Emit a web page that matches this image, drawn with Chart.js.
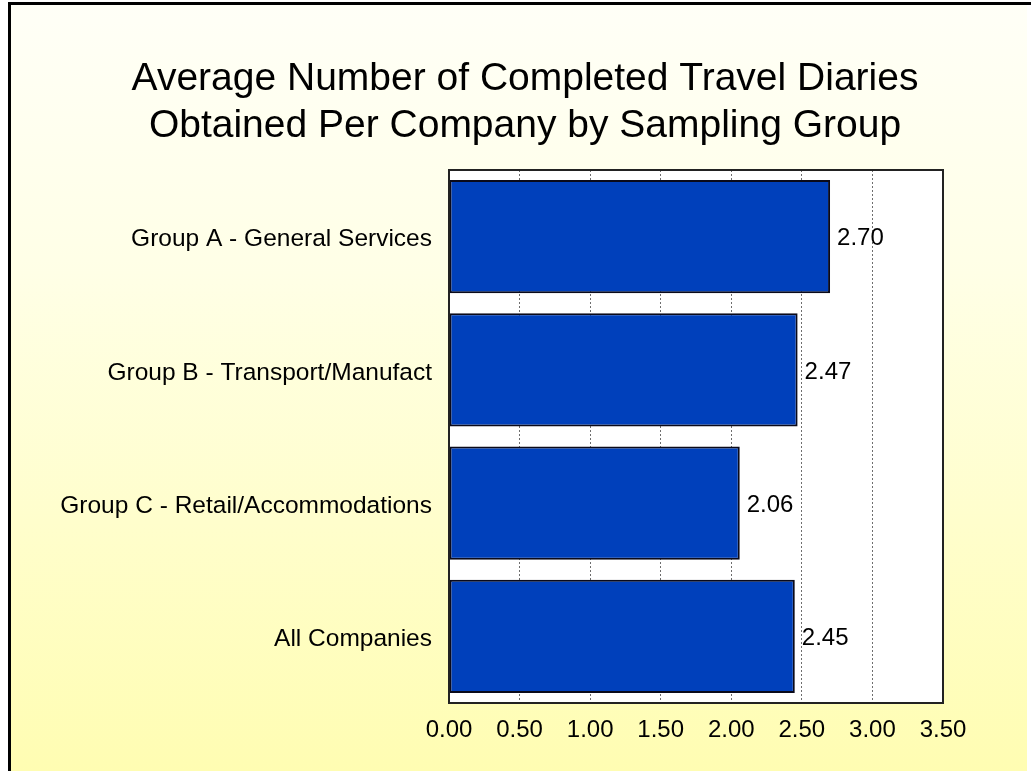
<!DOCTYPE html>
<html>
<head>
<meta charset="utf-8">
<title>Travel Diaries per Company</title>
<script src="https://cdn.jsdelivr.net/npm/chart.js@4.4.1/dist/chart.umd.min.js"></script>
<style>
  html, body { margin: 0; padding: 0; background: #fff; }
  #wrap { width: 1031px; height: 771px; position: relative; }
</style>
</head>
<body>
<div id="wrap"><canvas id="diaryChart" width="1031" height="771"></canvas></div>
<script>
const groups = [
  'Group A - General Services',
  'Group B - Transport/Manufact',
  'Group C - Retail/Accommodations',
  'All Companies'
];
const avgDiaries = [2.70, 2.47, 2.06, 2.45];
const xTicks = [0, 0.5, 1, 1.5, 2, 2.5, 3, 3.5];
const titleLines = ['Average Number of Completed Travel Diaries', 'Obtained Per Company by Sampling Group'];

const FONT = '"Liberation Sans", Arial, sans-serif';

// page background: yellow wash with the black frame on top/left
const slideBackground = {
  id: 'slideBackground',
  beforeDraw(chart) {
    const ctx = chart.ctx;
    ctx.save();
    ctx.fillStyle = '#ffffff';
    ctx.fillRect(0, 0, chart.width, chart.height);
    const g = ctx.createLinearGradient(0, 5, 0, chart.height);
    g.addColorStop(0, '#fffff7');
    g.addColorStop(0.35, '#ffffe6');
    g.addColorStop(1, '#fffdb2');
    ctx.fillStyle = g;
    ctx.fillRect(11, 5, 1016, chart.height - 5);
    ctx.fillStyle = '#000';
    ctx.fillRect(8, 2, chart.width - 8, 3);
    ctx.fillRect(8, 2, 3, chart.height - 2);

    // white plot area
    const a = chart.chartArea;
    ctx.fillStyle = '#ffffff';
    ctx.fillRect(a.left, a.top, a.right - a.left, a.bottom - a.top);
    ctx.restore();
  },
  afterDatasetsDraw(chart) {
    const a = chart.chartArea;
    const ctx = chart.ctx;
    ctx.save();
    ctx.strokeStyle = '#222';
    ctx.lineWidth = 2;
    ctx.strokeRect(a.left, a.top, a.right - a.left, a.bottom - a.top);
    ctx.restore();
  }
};

// two-line heading, centred a bit right of the canvas middle
const heading = {
  id: 'heading',
  afterDraw(chart) {
    const ctx = chart.ctx;
    ctx.save();
    ctx.font = '39px ' + FONT;
    ctx.fillStyle = '#000';
    ctx.textAlign = 'center';
    ctx.textBaseline = 'middle';
    titleLines.forEach((line, i) => ctx.fillText(line, 525, 79 + i * 47));
    ctx.restore();
  }
};

// value printed just past the end of each bar
const barValues = {
  id: 'barValues',
  afterDatasetsDraw(chart) {
    const ctx = chart.ctx;
    const meta = chart.getDatasetMeta(0);
    ctx.save();
    ctx.font = '24px ' + FONT;
    ctx.fillStyle = '#000';
    ctx.textAlign = 'left';
    ctx.textBaseline = 'middle';
    meta.data.forEach((bar, i) => {
      ctx.fillText(avgDiaries[i].toFixed(2), bar.x + 7, bar.y + 2);
    });
    ctx.restore();
  }
};

new Chart(document.getElementById('diaryChart'), {
  type: 'bar',
  data: {
    labels: groups,
    datasets: [{
      data: avgDiaries,
      backgroundColor: '#0040bb',
      borderColor: '#0a0a1a',
      borderWidth: 2,
      borderSkipped: false,
      barPercentage: 0.85,
      categoryPercentage: 1.0
    }]
  },
  options: {
    indexAxis: 'y',
    responsive: false,
    animation: false,
    devicePixelRatio: 1,
    layout: { padding: { left: 20, right: 88, top: 170, bottom: 0 } },
    plugins: {
      legend: { display: false },
      tooltip: { enabled: false },
      title: { display: false }
    },
    scales: {
      x: {
        min: 0,
        max: 3.5,
        afterBuildTicks(scale) {
          scale.ticks = xTicks.map(v => ({ value: v }));
        },
        afterFit(scale) { scale.height = 68; },
        border: { display: false, dash: [2, 2] },
        grid: {
          color: '#6e6e6e',
          lineWidth: 1,
          drawTicks: false
        },
        ticks: {
          color: '#000',
          padding: 13,
          font: { family: FONT, size: 24 },
          callback: v => Number(v).toFixed(2)
        }
      },
      y: {
        afterFit(scale) { scale.width = 429; },
        border: { display: false },
        grid: { display: false, drawTicks: false },
        ticks: {
          color: '#000',
          padding: 17,
          labelOffset: 3,
          autoSkip: false,
          font: { family: FONT, size: 24.5 }
        }
      }
    }
  },
  plugins: [slideBackground, heading, barValues]
});
</script>
</body>
</html>
